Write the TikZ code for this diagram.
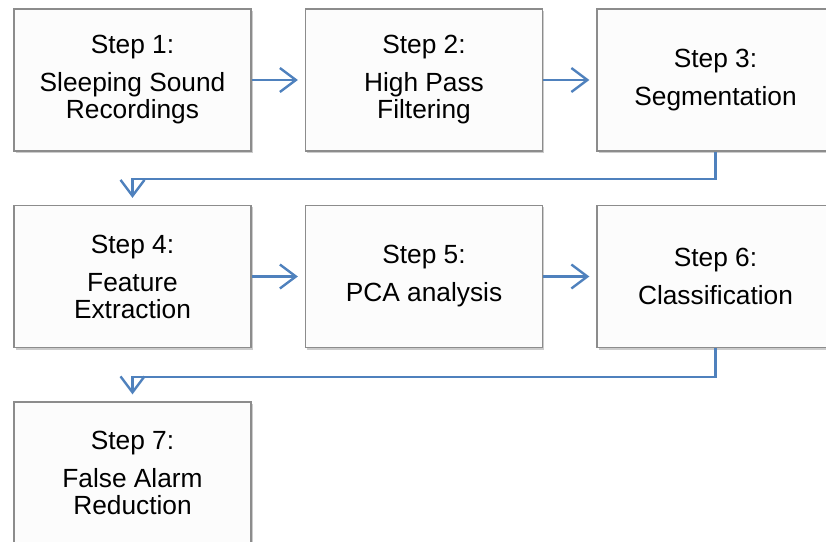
\documentclass[tikz,border=0pt]{standalone}
\usepackage{fontspec}
\setmainfont{Liberation Sans}
\usepackage{xcolor}
\usetikzlibrary{arrows.meta,shadows}

\definecolor{flowblue}{HTML}{4F81BD}

\tikzset{
  stepbox/.style={draw=black!45,line width=1.2pt,fill=white!99!black,
    minimum width=237pt,minimum height=142pt,inner sep=0pt,align=center,
    font=\fontsize{26.3}{27}\selectfont,
    drop shadow={shadow xshift=1.5pt,shadow yshift=-2pt,fill=black!40,opacity=0.5}},
  flow/.style={draw=flowblue,line width=2.4pt,
    -{Straight Barb[length=16pt,width=24pt,line width=2.4pt]},shorten >=7pt}
}

\begin{document}
\begin{tikzpicture}[x=1pt,y=1pt]
\useasboundingbox (0,0) rectangle (826,541);
\node[stepbox] (s1) at (132.5,461) {Step 1:\\[11pt]Sleeping Sound\\Recordings};
\node[stepbox] (s2) at (424,461) {Step 2:\\[11pt]High Pass\\Filtering};
\node[stepbox] (s3) at (715.5,461) {Step 3:\\[11pt]Segmentation};
\node[stepbox] (s4) at (132.5,264.5) {Step 4:\\[11pt]Feature\\Extraction};
\node[stepbox] (s5) at (424,264.5) {Step 5:\\[11pt]PCA analysis};
\node[stepbox] (s6) at (715.5,264.5) {Step 6:\\[11pt]Classification};
\node[stepbox] (s7) at (132.5,68) {Step 7:\\[11pt]False Alarm\\Reduction};
\draw[flow] (s1) -- (s2);
\draw[flow] (s2) -- (s3);
\draw[flow] (s4) -- (s5);
\draw[flow] (s5) -- (s6);
\draw[flow] (s3.south) |- (132.5,362) -- (s4.north);
\draw[flow] (s6.south) |- (132.5,164) -- (s7.north);
\end{tikzpicture}
\end{document}
